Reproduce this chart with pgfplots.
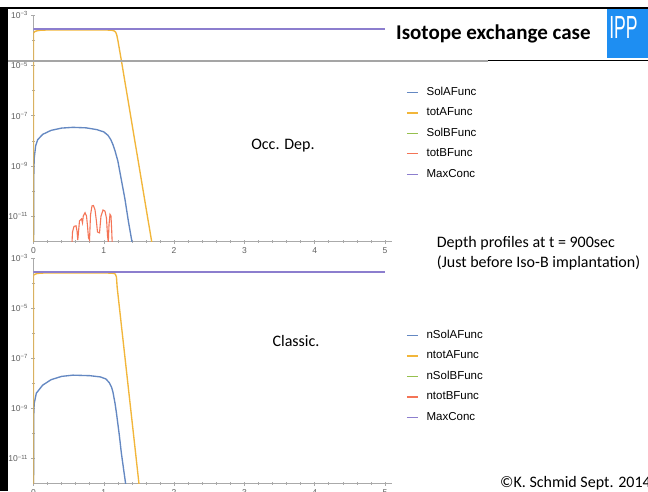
\documentclass[border=0pt]{standalone}
\usepackage{fontspec}
\setmainfont{Carlito}
\newfontfamily\mfont{Liberation Sans}
\usepackage{pgfplots}
\pgfplotsset{compat=1.18}
\definecolor{mmblue}{RGB}{100,136,194}
\definecolor{mmorange}{RGB}{242,182,58}
\definecolor{mmgreen}{RGB}{150,192,78}
\definecolor{mmred}{RGB}{244,116,86}
\definecolor{mmpurple}{RGB}{140,126,206}
\definecolor{axgray}{RGB}{170,170,170}
\definecolor{lblgray}{RGB}{95,95,95}
\definecolor{rulegray}{RGB}{165,165,165}
\definecolor{ippblue}{RGB}{30,142,242}
\pgfplotsset{
  mma/.style={
    scale only axis, width=358.2pt, xmin=0, xmax=5.095,
    ymin=1e-12, ymax=1e-3,
    axis lines=left, axis line style={-, axgray, line width=0.8pt},
    xtick={0,1,2,3,4,5}, xticklabels={0,1,2,3,4,5}, minor x tick num=4,
    ytick={1e-3,1e-5,1e-7,1e-9,1e-11},
    minor ytick={1e-4,1e-6,1e-8,1e-10},
    yticklabels={10\textsuperscript{−3},10\textsuperscript{−5},10\textsuperscript{−7},10\textsuperscript{−9},10\textsuperscript{−11}},
    tick style={axgray, line width=0.6pt},
    major tick length=4pt, minor tick length=2.5pt,
    ticklabel style={font=\mfont\fontsize{8.5}{9}\selectfont, text=lblgray},
    xticklabel style={yshift=-1pt},
    every axis plot/.append style={line width=1.35pt},
    legend cell align=left,
    legend style={draw=none, fill=none, anchor=north west,
      font=\mfont\fontsize{11.5}{12}\selectfont,
      inner xsep=0pt, inner ysep=0pt, row sep=10.5pt, column sep=8pt,
      nodes={inner sep=0pt, text height=8pt, text depth=2pt}},
    legend image code/.code={\draw[##1] (0pt,0pt) -- (11pt,0pt);},
  }
}
\begin{document}
\begin{tikzpicture}[x=1pt,y=1pt]
\path[use as bounding box] (0,0) rectangle (648,491);
\clip (0,0) rectangle (648,491);
\fill[white] (0,0) rectangle (648,491);
\coordinate (topSW) at (33.5pt,249.5pt);
\coordinate (botSW) at (33.5pt,7.5pt);

% upper panel: Occ. Dep.
\begin{axis}[ymode=log, mma, height=226.3pt, at={(topSW)}, anchor=south west,
  legend style={at={(axis description cs:1.040,0.682)}}]
\addplot[mmblue] coordinates {(0,1e-13) (0.003,3.2e-10) (0.01,2e-9) (0.03,6.3e-9) (0.06,1.12e-8) (0.13,1.82e-8) (0.25,2.63e-8) (0.4,3.24e-8) (0.56,3.47e-8) (0.75,3.31e-8) (0.9,2.82e-8) (1.0,2.29e-8) (1.06,1.66e-8) (1.1,1.12e-8) (1.13,7.1e-9) (1.16,4.0e-9) (1.2,1.58e-9) (1.25,2.8e-10) (1.3,5.0e-11) (1.35,6.3e-12) (1.40,1e-12) (1.42,4e-13)};
\addplot[mmorange] coordinates {(0,1e-13) (0.001,2.0e-4) (0.02,2.25e-4) (0.05,2.4e-4) (0.1,2.52e-4) (0.2,2.58e-4) (0.5,2.6e-4) (0.9,2.6e-4) (1.05,2.57e-4) (1.12,2.5e-4) (1.15,2.35e-4) (1.17,2.1e-4) (1.185,1.6e-4) (1.2,1.0e-4) (1.25,1.58e-5) (1.3,2.3e-6) (1.4,4.9e-8) (1.5,1.05e-9) (1.6,2.2e-11) (1.681,1e-12) (1.71,3.2e-13)};
% SolBFunc lies below the plotted range
\addplot[mmgreen] coordinates {(0,1e-14) (5,1e-14)};
\addplot[mmred, line width=1.1pt] coordinates {(0.548,9.5e-13) (0.555,2.4e-12) (0.576,4.0e-12) (0.605,4.2e-12) (0.619,2.6e-12) (0.630,1.15e-12) (0.640,2.4e-12) (0.654,6.6e-12) (0.683,7.9e-12) (0.697,5.5e-12) (0.708,1.03e-11) (0.733,1.4e-11) (0.754,1.03e-11) (0.768,4.2e-12) (0.782,1.4e-12) (0.797,1.15e-12) (0.811,1.15e-11) (0.832,2.6e-11) (0.853,2.7e-11) (0.875,1.8e-11) (0.893,7.2e-12) (0.910,2.4e-12) (0.939,2.2e-12) (0.960,1.03e-11) (0.989,1.8e-11) (1.017,1.6e-11) (1.038,8.5e-12) (1.053,1.65e-12) (1.064,9.5e-13) (1.074,4.6e-12) (1.088,1.2e-11) (1.102,1.03e-11) (1.112,2.9e-12) (1.119,9.5e-13)};
\addplot[mmpurple] coordinates {(0,2.85e-4) (5,2.85e-4)};
\legend{SolAFunc,totAFunc,SolBFunc,totBFunc,MaxConc}
\end{axis}

% lower panel: Classic.
\begin{axis}[ymode=log, mma, height=225.2pt, at={(botSW)}, anchor=south west,
  legend style={at={(axis description cs:1.040,0.681)}}]
\addplot[mmblue] coordinates {(0,1e-13) (0.003,5e-10) (0.01,1.58e-9) (0.04,4.07e-9) (0.13,8.5e-9) (0.25,1.41e-8) (0.4,1.91e-8) (0.56,2.14e-8) (0.8,2.04e-8) (0.95,1.82e-8) (1.03,1.51e-8) (1.08,1.05e-8) (1.11,7.1e-9) (1.13,4.5e-9) (1.16,1.58e-9) (1.18,6.5e-10) (1.22,8.9e-11) (1.25,1.62e-11) (1.28,4e-12) (1.31,1e-12) (1.33,4e-13)};
\addplot[mmorange] coordinates {(0,1e-13) (0.001,2.1e-4) (0.02,2.3e-4) (0.05,2.45e-4) (0.1,2.55e-4) (0.2,2.6e-4) (0.5,2.6e-4) (0.9,2.6e-4) (1.05,2.58e-4) (1.12,2.53e-4) (1.15,2.45e-4) (1.165,2.3e-4) (1.18,1.78e-4) (1.19,7e-5) (1.25,2.1e-6) (1.321,3.4e-8) (1.4,3.4e-10) (1.5,1e-12) (1.52,3.2e-13)};
% nSolBFunc and ntotBFunc lie below the plotted range
\addplot[mmgreen] coordinates {(0,1e-14) (5,1e-14)};
\addplot[mmred] coordinates {(0,1e-14) (5,1e-14)};
\addplot[mmpurple] coordinates {(0,2.85e-4) (5,2.85e-4)};
\legend{nSolAFunc,ntotAFunc,nSolBFunc,ntotBFunc,MaxConc}
\end{axis}

% slide decoration
\draw[rulegray, line width=1.8pt] (7.5,430) -- (488,430);
\draw[black, line width=0.8pt] (488,430.2) -- (648,430.2);
\fill[black] (0,0) rectangle (7.5,484.3);
\fill[black] (6.7,481.7) rectangle (648,484.3);
\fill[ippblue] (606.7,432.7) rectangle (648,481.7);
\node[anchor=base, inner sep=0pt, text=white, font=\mfont\fontsize{32}{32}\selectfont, xscale=0.55] at (623.5,452) {IPP};
\node[anchor=base west, inner sep=0pt, font=\bfseries\fontsize{21}{24}\selectfont] at (396,451.7) {Isotope exchange case};

\node[font=\fontsize{16}{19}\selectfont] at (283,345) {Occ. Dep.};
\node[font=\fontsize{16}{19}\selectfont] at (296,150) {Classic.};
\node[anchor=base west, inner sep=0pt, font=\fontsize{16}{19}\selectfont] at (436.7,243.7) {Depth profiles at t = 900sec};
\node[anchor=base west, inner sep=0pt, font=\fontsize{16}{19}\selectfont] at (436.7,224) {(Just before Iso-B implantation)};
\node[anchor=base west, inner sep=0pt, font=\fontsize{16}{19}\selectfont] at (500,3.3) {©K. Schmid Sept. 2014};
\end{tikzpicture}
\end{document}
